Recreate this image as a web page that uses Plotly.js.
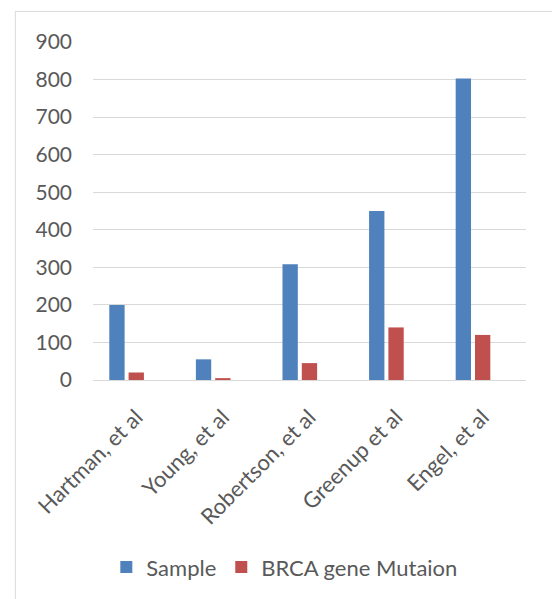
<!DOCTYPE html>
<html>
<head>
<meta charset="utf-8">
<script src="https://cdn.plot.ly/plotly-3.0.1.min.js"></script>
<style>html,body{margin:0;padding:0;background:#fff;}#chart{width:552px;height:599px;}</style>
</head>
<body>
<div id="chart"></div>
<script>
var categories = ["Hartman, et al", "Young, et al", "Robertson, et al", "Greenup et al", "Engel, et al"];
var sampleValues = [200, 55, 308, 450, 803];
var brcaValues = [20, 5, 45, 140, 120];
var yTicks = [0, 100, 200, 300, 400, 500, 600, 700, 800, 900];

var font = "Lato, 'Open Sans', sans-serif";
var data = [
  {type: "bar", name: "Sample", x: categories, y: sampleValues, marker: {color: "#4f81bd"},
   width: 0.177, offset: -0.312},
  {type: "bar", name: "BRCA gene Mutaion", x: categories, y: brcaValues, marker: {color: "#c0504d"},
   width: 0.177, offset: -0.089}
];
var layout = {
  width: 552, height: 599,
  margin: {l: 93, r: 26, t: 42, b: 218},
  paper_bgcolor: "#fff", plot_bgcolor: "#fff",
  barmode: "group",
  font: {family: font, color: "#595959", size: 21},
  showlegend: true,
  legend: {orientation: "h", x: 0.443, xanchor: "center", y: -0.549, yanchor: "middle",
           font: {family: font, size: 22, color: "#595959"}, itemwidth: 30},
  xaxis: {tickangle: -45, tickfont: {family: font, size: 22, color: "#595959"},
          ticklabelstandoff: 19,
          showgrid: false, showline: false, ticks: "", fixedrange: true},
  yaxis: {range: [0, 900], tickvals: yTicks, ticktext: yTicks.map(String),
          tickfont: {family: font, size: 21, color: "#595959"},
          ticklabelstandoff: 20,
          showgrid: true, gridcolor: "#d9d9d9", gridwidth: 1,
          zeroline: true, zerolinecolor: "#d9d9d9", zerolinewidth: 1,
          showline: false, ticks: "", ticklen: 0, fixedrange: true},
  shapes: [{type: "rect", xref: "paper", yref: "paper", x0: -0.1793, x1: 1.3, y0: -0.8, y1: 1.0906,
            line: {color: "#d9d9d9", width: 1}, fillcolor: "rgba(0,0,0,0)", layer: "below"}]
};
Plotly.newPlot("chart", data, layout, {displayModeBar: false, staticPlot: true});
</script>
</body>
</html>
